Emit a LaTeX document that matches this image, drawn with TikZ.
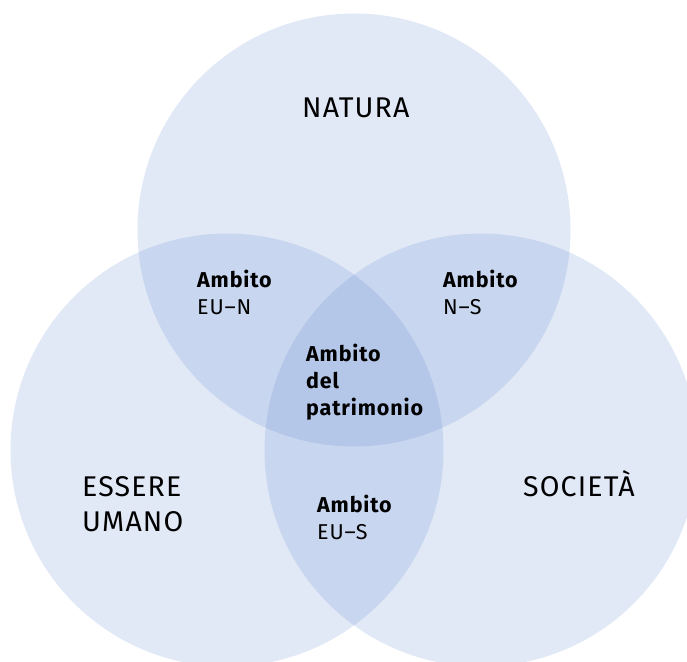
\documentclass[tikz,border=0pt]{standalone}
\usepackage{fontspec}
\setmainfont{Fira Sans}
\newfontfamily\bigfont[LetterSpace=4]{Fira Sans}
\newfontfamily\smallfont[LetterSpace=4]{Fira Sans}
\definecolor{vennblue}{RGB}{105,140,210}
\tikzset{
  venn/.style={circle, minimum size=433pt, inner sep=0pt, fill=vennblue, fill opacity=0.2, draw=none},
  biglabel/.style={anchor=base west, inner sep=0pt, font=\bigfont\fontsize{28.5}{34}\selectfont, text=black},
  smalllabel/.style={anchor=base west, inner sep=0pt, font=\smallfont\fontsize{21.5}{26}\selectfont, text=black},
  boldlabel/.style={smalllabel, font=\smallfont\fontsize{21.5}{26}\selectfont\bfseries},
}
\begin{document}
\begin{tikzpicture}[x=1pt,y=-1pt]
\useasboundingbox (0,0) rectangle (687,661);
\clip (0,0) rectangle (687,661);
\node[venn] (natura) at (354,230) {};
\node[venn] (essere) at (227,450) {};
\node[venn] (societa) at (481,450) {};
% big labels
\node[biglabel] (tn) at (302,117) {NATURA};
\node[biglabel] (te1) at (82,496) {ESSERE};
\node[biglabel] (te2) at (82,531) {UMANO};
\node[biglabel] (ts) at (523,496) {SOCIETÀ};
% EU-N
\node[boldlabel] (eun1) at (197,287) {Ambito};
\node[smalllabel] (eun2) at (197,314) {EU–N};
% N-S
\node[boldlabel] (ns1) at (443,287) {Ambito};
\node[smalllabel] (ns2) at (443,314) {N–S};
% patrimonio
\node[boldlabel] (p1) at (306,361) {Ambito};
\node[boldlabel] (p2) at (306,388) {del};
\node[boldlabel] (p3) at (306,415) {patrimonio};
% EU-S
\node[boldlabel] (eus1) at (317,512) {Ambito};
\node[smalllabel] (eus2) at (317,539) {EU–S};
\end{tikzpicture}
\end{document}
